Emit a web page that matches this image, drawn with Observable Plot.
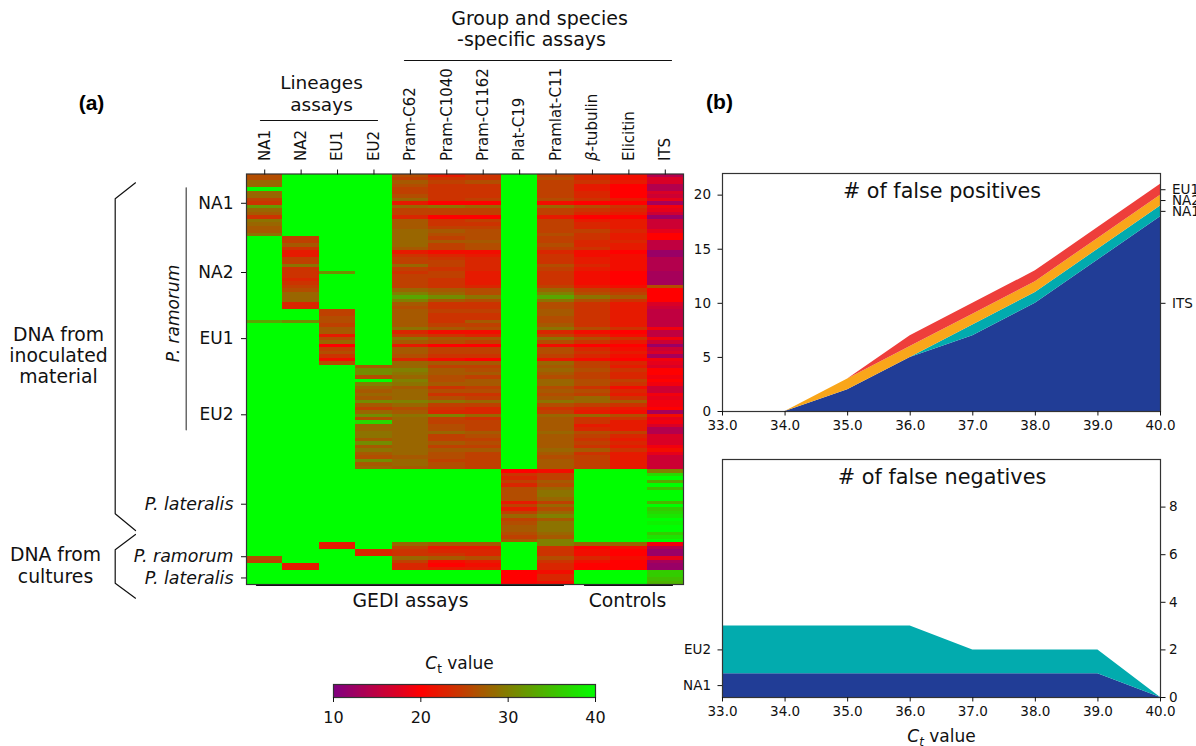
<!DOCTYPE html>
<html>
<head>
<meta charset="utf-8">
<script src="https://cdn.jsdelivr.net/npm/d3@7"></script>
<script src="https://cdn.jsdelivr.net/npm/@observablehq/plot@0.6"></script>
<style>
html,body{margin:0;padding:0;background:#fff;overflow:hidden;width:1196px;height:746px}
#page{position:relative;width:1196px;height:746px;overflow:hidden}
#page svg{position:absolute;left:0;top:0}
</style>
</head>
<body>
<div id="page"></div>
<script>
// ---------- heat map values (Ct), one array per assay, top row to bottom row ----------
const assays = ["NA1","NA2","EU1","EU2","Pram-C62","Pram-C1040","Pram-C1162","Plat-C19","Pramlat-C11","β-tubulin","Elicitin","ITS"];

const ctNA1 = [
 26,26,28,28,40,28,28,25,24,32,28,27,24,29,28,27,27,29,
 40,40,40,40,40,40,40,40,40,40,40,40,40,40,40,40,40,40,40,40,40,
 40,40,40,33,40,40,40,40,40,40,40,40,40,40,40,40,
 40,40,40,40,40,40,40,40,40,40,40,40,40,40,40,40,40,40,40,40,40,40,40,40,40,40,40,40,40,40,
 40,40,40,40,40,40,40,40,40,40,40,40,40,40,40,40,40,40,40,40,40,
 40,40,40,40,26,25,40,40,
 40,40,40,40];
const ctNA2 = [
 40,40,40,40,40,40,40,40,40,40,40,40,40,40,40,40,40,40,
 25,25,27,24,22,22,25,25,29,24,24,24,23,24,25,26,28,28,28,23,23,
 40,40,40,31,40,40,40,40,40,40,40,40,40,40,40,40,
 40,40,40,40,40,40,40,40,40,40,40,40,40,40,40,40,40,40,40,40,40,40,40,40,40,40,40,40,40,40,
 40,40,40,40,40,40,40,40,40,40,40,40,40,40,40,40,40,40,40,40,40,
 40,40,40,40,40,40,22,22,
 40,40,40,40];
const ctEU1 = [
 40,40,40,40,40,40,40,40,40,40,40,40,40,40,40,40,40,40,
 40,40,40,40,40,40,40,40,40,40,31,40,40,40,40,40,40,40,40,40,40,
 25,25,26,26,25,27,27,22,26,28,20,25,26,24,21,26,
 40,40,40,40,40,40,40,40,40,40,40,40,40,40,40,40,40,40,40,40,40,40,40,40,40,40,40,40,40,40,
 40,40,40,40,40,40,40,40,40,40,40,40,40,40,40,40,40,40,40,40,40,
 22,22,40,40,40,40,40,40,
 40,40,40,40];
const ctEU2 = [
 40,40,40,40,40,40,40,40,40,40,40,40,40,40,40,40,40,40,
 40,40,40,40,40,40,40,40,40,40,40,40,40,40,40,40,40,40,40,40,40,
 40,40,40,40,40,40,40,40,40,40,40,40,40,40,40,40,
 27,31,31,26,40,30,28,27,28,27,31,27,25,28,31,26,37,28,28,29,29,27,31,27,29,27,26,31,27,28,
 40,40,40,40,40,40,40,40,40,40,40,40,40,40,40,40,40,40,40,40,40,
 40,40,23,23,40,40,40,40,
 40,40,40,40];
const ctPramC62 = [
 26,25,27,26,25,25,26,28,22,28,25,25,23,27,27,27,28,28,
 28,28,28,27,22,24,25,25,28,25,24,25,25,25,25,28,30,33,30,27,26,
 27,27,27,27,27,29,23,25,29,27,22,27,27,26,23,28,
 28,30,29,28,30,29,27,28,28,28,30,28,26,27,29,28,28,28,28,28,28,28,28,28,28,28,27,28,28,27,
 40,40,40,40,40,40,40,40,40,40,40,40,40,40,40,40,40,40,40,40,40,
 28,25,24,24,28,25,23,23,
 40,40,40,40];
const ctPramC1040 = [
 22,24,25,24,24,24,24,24,20,29,25,25,20,24,24,25,27,26,
 25,27,25,25,21,23,24,25,25,24,25,25,24,24,24,27,28,31,27,24,24,
 25,24,24,24,25,27,21,24,27,26,20,25,25,24,21,27,
 25,27,27,26,26,27,24,26,24,26,29,25,24,23,30,25,25,26,26,28,25,25,27,25,27,26,26,25,26,26,
 40,40,40,40,40,40,40,40,40,40,40,40,40,40,40,40,40,40,40,40,40,
 27,22,23,24,27,21,20,22,
 40,40,40,40];
const ctPramC1162 = [
 24,24,26,24,24,24,24,25,20,28,25,25,20,25,24,25,26,26,
 26,27,26,26,21,22,23,23,23,23,22,22,22,22,23,26,26,29,26,24,24,
 25,24,24,27,25,26,21,23,27,25,20,25,25,24,20,27,
 25,26,27,25,27,27,25,26,24,25,28,25,23,23,28,24,25,25,25,27,26,25,26,25,27,25,25,25,25,25,
 40,40,40,40,40,40,40,40,40,40,40,40,40,40,40,40,40,40,40,40,40,
 27,22,23,23,26,22,21,22,
 40,40,40,40];
const ctPlatC19 = [
 40,40,40,40,40,40,40,40,40,40,40,40,40,40,40,40,40,40,
 40,40,40,40,40,40,40,40,40,40,40,40,40,40,40,40,40,40,40,40,40,
 40,40,40,40,40,40,40,40,40,40,40,40,40,40,40,40,
 40,40,40,40,40,40,40,40,40,40,40,40,40,40,40,40,40,40,40,40,40,40,40,40,40,40,40,40,40,40,
 20,24,23,25,23,26,26,26,26,22,25,22,25,28,25,26,27,27,26,25,27,
 40,40,40,40,40,40,40,40,
 20,20,20,20];
const ctPramlatC11 = [
 25,26,25,25,25,25,25,26,21,28,25,25,22,25,25,25,25,26,
 25,25,26,25,23,24,24,24,26,25,24,24,24,24,25,28,30,33,29,26,26,
 27,27,26,26,27,29,23,25,29,26,21,26,26,25,22,28,
 27,28,27,26,28,28,26,27,26,27,29,26,24,25,28,27,27,27,27,28,27,27,27,27,28,27,26,27,27,27,
 21,25,25,27,26,28,29,29,28,25,28,26,28,30,27,29,29,29,28,27,30,
 30,24,24,24,26,24,23,23,
 21,23,23,21];
const ctTubulin = [
 23,23,24,22,22,23,23,24,20,26,24,23,20,22,23,23,25,24,
 24,23,23,24,21,21,22,22,23,22,21,21,21,21,22,25,26,29,26,24,24,
 24,24,24,24,24,26,21,23,26,24,20,23,24,23,21,25,
 25,26,25,25,26,26,24,26,25,28,28,25,23,22,28,24,24,22,23,26,25,24,25,24,27,24,25,25,25,25,
 40,40,40,40,40,40,40,40,40,40,40,40,40,40,40,40,40,40,40,40,40,
 28,20,21,21,23,21,20,20,
 40,40,40,40];
const ctElicitin = [
 21,21,22,20,20,20,20,22,20,24,23,22,20,22,22,22,23,22,
 22,23,22,22,20,21,21,21,21,21,20,20,20,20,21,24,25,27,24,22,22,
 22,22,22,22,22,24,20,21,24,22,20,21,22,21,20,23,
 22,24,23,23,25,24,21,23,22,24,27,24,22,21,26,24,22,22,22,25,23,22,23,22,24,22,22,22,22,22,
 40,40,40,40,40,40,40,40,40,40,40,40,40,40,40,40,40,40,40,40,40,
 28,21,20,20,21,20,20,20,
 40,40,40,40];
const ctITS = [
 14,17,17,14,14,17,16,18,13,19,18,16,12,16,16,16,18,20,
 20,15,15,15,12,12,14,14,14,14,13,13,13,13,26,20,20,20,20,17,16,
 15,15,15,15,15,19,15,15,19,16,12,16,17,13,19,18,
 17,20,20,19,20,19,16,16,19,18,19,19,20,13,21,18,19,17,14,14,17,17,17,19,21,18,16,16,16,16,
 30,37,40,33,40,35,40,40,40,34,40,36,37,38,40,39,40,40,36,38,40,
 19,14,12,12,18,13,12,12,
 36,36,35,34];
const ctColumns = [ctNA1,ctNA2,ctEU1,ctEU2,ctPramC62,ctPramC1040,ctPramC1162,ctPlatC19,ctPramlatC11,ctTubulin,ctElicitin,ctITS];

// rows axis: tick label -> position along the 118 rows
const rowTicksPlain = [[7.7,"NA1"],[27.6,"NA2"],[46.6,"EU1"],[68.5,"EU2"]];
const rowTicksItalic = [[94.2,"P. lateralis"],[109.3,"P. ramorum"],[115.4,"P. lateralis"]];

// ---------- false positive / false negative counts ----------
const ctCutoffs = [33,34,35,36,37,38,39,40];
const fpITS = [0,0,2,5,7,10,14,18];
const fpNA1 = [0,0,0,0,1,1,1,1];
const fpNA2 = [0,0,1,1,1,1,1,1];
const fpEU1 = [0,0,0,1,1,1,1,1];
const fnNA1 = [1,1,1,1,1,1,1,0];
const fnEU2 = [2,2,2,2,1,1,1,0];

const fpSeries = {ITS:fpITS, NA1:fpNA1, NA2:fpNA2, EU1:fpEU1};
const fnSeries = {NA1:fnNA1, EU2:fnEU2};
const fpColors = ["#213d96","#02abae","#f9a61a","#ee3e3b"];
const fnColors = ["#213d96","#02abae"];
const fpStackLabels = [[10,"ITS"],[18.5,"NA1"],[19.5,"NA2"],[20.5,"EU1"]];
const fnStackLabels = [[0.5,"NA1"],[2,"EU2"]];

// ---------- helpers ----------
const FONT = "DejaVu Sans";
const W = 1196, H = 746;
const page = document.getElementById("page");
const ctColor = {type:"linear", domain:[10,20,40], range:["#800080","#ff0000","#00ff00"], interpolate:"rgb"};

function place(box, options){
  const svg = Plot.plot({
    width:W, height:H,
    marginLeft:box.left, marginRight:W-box.right, marginTop:box.top, marginBottom:H-box.bottom,
    style:{background:"transparent", fontFamily:FONT, color:"#111", overflow:"visible"},
    ...options
  });
  page.appendChild(svg);
  return svg;
}
const longForm = series => Object.entries(series).flatMap(([assay,vals]) =>
  vals.map((n,i)=>({assay, ct:ctCutoffs[i], n})));
const rich = (svg, plain, html) => svg.querySelectorAll("text").forEach(t=>{
  if(t.textContent===plain){ const host=t.querySelector("tspan")||t; host.innerHTML=html; }
});

// ---------- (a) heat map ----------
const cells = assays.flatMap((assay,c)=>ctColumns[c].map((ct,row)=>({assay,row,ct})));
const heat = place({left:246,right:683,top:173.5,bottom:584},{
  x:{type:"band", domain:assays, padding:0, round:false, label:null},
  y:{type:"linear", domain:[118,0], label:null},
  color:ctColor,
  marks:[
    Plot.barY(cells,{x:"assay",y1:"row",y2:d=>d.row+1,fill:"ct",shapeRendering:"crispEdges",inset:0}),
    Plot.frame({stroke:"#333",strokeWidth:1.2}),
    Plot.axisX({anchor:"top",tickRotate:-90,tickSize:5,tickPadding:8,fontSize:15,label:null}),
    Plot.axisY({anchor:"left",ticks:rowTicksPlain.map(d=>d[0]),tickFormat:v=>rowTicksPlain.find(d=>d[0]===v)[1],tickSize:5,tickPadding:8,fontSize:17,dy:2.5,label:null}),
    Plot.axisY({anchor:"left",ticks:rowTicksItalic.map(d=>d[0]),tickFormat:v=>rowTicksItalic.find(d=>d[0]===v)[1],tickSize:5,tickPadding:8,fontSize:17.4,dy:2.5,fontStyle:"italic",label:null})
  ]
});
rich(heat,"β-tubulin",'<tspan font-style="italic">β</tspan>-tubulin');
heat.querySelectorAll('g[aria-label="bar"]').forEach(g=>g.style.filter="blur(0.6px)");

// ---------- colour bar ----------
const barLevels = d3.range(10,40,0.25);
const cbar = place({left:333,right:595,top:684,bottom:697},{
  x:{type:"linear",domain:[10,40],label:null},
  color:ctColor,
  marks:[
    Plot.rectX(barLevels,{x1:d=>d,x2:d=>d+0.25,fill:d=>d,shapeRendering:"crispEdges"}),
    Plot.frame({stroke:"#333",strokeWidth:1.2}),
    Plot.axisX({anchor:"bottom",ticks:[10,20,30,40],tickFormat:d=>d,tickSize:5,tickPadding:9,fontSize:16,label:null})
  ]
});

// ---------- (b) false positives ----------
place({left:722,right:1160,top:173,bottom:411},{
  x:{type:"linear",domain:[33,40],label:null},
  y:{type:"linear",domain:[0,22],label:null},
  color:{domain:Object.keys(fpSeries),range:fpColors},
  marks:[
    Plot.areaY(longForm(fpSeries),{x:"ct",y:"n",fill:"assay",order:Object.keys(fpSeries)}),
    Plot.frame({stroke:"#333",strokeWidth:1.2}),
    Plot.axisX({anchor:"bottom",ticks:ctCutoffs,tickFormat:".1f",tickSize:4.5,tickPadding:4,fontSize:13.5,label:null}),
    Plot.axisY({anchor:"left",ticks:[0,5,10,15,20],tickFormat:d=>d,tickSize:4.5,tickPadding:7,fontSize:13.5,label:null}),
    Plot.axisY({anchor:"right",ticks:fpStackLabels.map(d=>d[0]),tickFormat:v=>fpStackLabels.find(d=>d[0]===v)[1],tickSize:4.5,tickPadding:7,fontSize:13.5,label:null})
  ]
});

// ---------- (b) false negatives ----------
place({left:722,right:1160,top:459,bottom:697},{
  x:{type:"linear",domain:[33,40],label:null},
  y:{type:"linear",domain:[0,10],label:null},
  color:{domain:Object.keys(fnSeries),range:fnColors},
  marks:[
    Plot.areaY(longForm(fnSeries),{x:"ct",y:"n",fill:"assay",order:Object.keys(fnSeries)}),
    Plot.frame({stroke:"#333",strokeWidth:1.2}),
    Plot.axisX({anchor:"bottom",ticks:ctCutoffs,tickFormat:".1f",tickSize:4.5,tickPadding:4,fontSize:13.5,label:null}),
    Plot.axisY({anchor:"right",ticks:[0,2,4,6,8],tickFormat:d=>d,tickSize:4.5,tickPadding:4,fontSize:13.5,label:null}),
    Plot.axisY({anchor:"left",ticks:fnStackLabels.map(d=>d[0]),tickFormat:v=>fnStackLabels.find(d=>d[0]===v)[1],tickSize:4.5,tickPadding:7,fontSize:13.5,label:null})
  ]
});

// ---------- annotations: page-coordinates overlay ----------
const note = (text,x,y,size,extra={}) => Plot.text([text],{x,y,text:d=>d,fontSize:size,textAnchor:"middle",lineAnchor:"middle",fill:"#111",...extra});
const stroke = (pts,extra={}) => Plot.line(pts,{x:d=>d[0],y:d=>d[1],stroke:"#111",strokeWidth:1.2,curve:"linear",...extra});

const overlay = place({left:0,right:W,top:0,bottom:H},{
  x:{type:"linear",domain:[0,W],range:[0,W]},
  y:{type:"linear",domain:[0,H],range:[0,H]},
  marks:[
    note("(a)",91,103,21,{fontFamily:"Liberation Sans",fontWeight:"bold",fill:"#000"}),
    note("(b)",719,102,21,{fontFamily:"Liberation Sans",fontWeight:"bold",fill:"#000"}),

    note("Group and species",539,18,19),
    note("-specific assays",531,39,19),
    stroke([[404,60],[671,60]]),
    note("Lineages",321,83,18.5),
    note("assays",321,105,18.5),
    stroke([[260,120],[377,120]]),

    stroke([[135,182.3],[114.7,198.3],[114.7,513.3],[135,530]]),
    stroke([[135,534],[114.7,549.3],[114.7,582.7],[135,597.7]]),
    stroke([[185.7,187.3],[185.7,429.3]],{stroke:"#444"}),
    note("P. ramorum",172.7,313,17,{rotate:-90,fontStyle:"italic"}),
    note("DNA from",58,334,18.8),
    note("inoculated",58,355,18.8),
    note("material",58,376,18.8),
    note("DNA from",55,554,18.8),
    note("cultures",55,576,18.8),

    stroke([[256,584.8],[563,584.8]]),
    stroke([[584,584.8],[672,584.8]]),
    note("GEDI assays",410,600,18.8),
    note("Controls",627,600,18.8),

    note("Ct value",459,663,17),
    note("# of false positives",941.5,191,20.7),
    note("# of false negatives",941.5,477,20.8),
    note("Ct-axis value",941,736.5,17)
  ]
});
rich(overlay,"Ct value",'<tspan font-style="italic">C</tspan><tspan dy="4" font-size="12">t</tspan><tspan dy="-4"> value</tspan>');
rich(overlay,"Ct-axis value",'<tspan font-style="italic">C</tspan><tspan dy="4" font-size="12" font-style="italic">t</tspan><tspan dy="-4"> value</tspan>');
</script>
</body>
</html>
